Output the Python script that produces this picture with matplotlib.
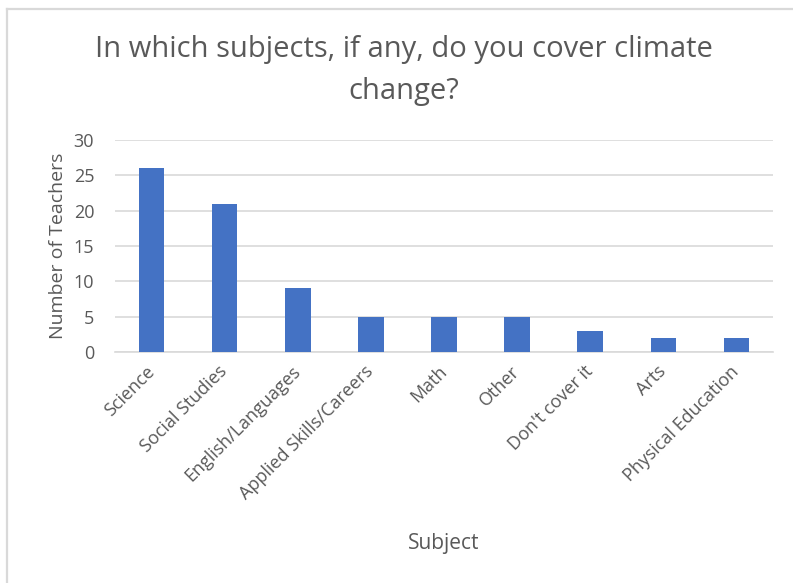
import matplotlib
matplotlib.use("Agg")
import matplotlib.pyplot as plt
from matplotlib.lines import Line2D

subjects = ["Science", "Social Studies", "English/Languages", "Applied Skills/Careers",
            "Math", "Other", "Don't cover it", "Arts", "Physical Education"]
teachers = [26, 21, 9, 5, 5, 5, 3, 2, 2]
yticks = [0, 5, 10, 15, 20, 25, 30]

bar_color = "#4472C4"
text_color = "#595959"
grid_color = "#D9D9D9"

plt.rcParams['font.family'] = ['Open Sans', 'DejaVu Sans']

W, H = 793, 583
fig = plt.figure(figsize=(W / 100, H / 100), dpi=100)
fig.patch.set_facecolor("white")

# thin gray frame along top and left edges
fig.add_artist(Line2D([6.5 / W, 6.5 / W], [0, 1 - 8.5 / H], transform=fig.transFigure,
                      color="#D9D9D9", lw=1.6))
fig.add_artist(Line2D([6.5 / W, 1], [1 - 8.5 / H, 1 - 8.5 / H], transform=fig.transFigure,
                      color="#D9D9D9", lw=1.6))

ax = fig.add_axes([115 / W, 1 - 352 / H, (773 - 115) / W, (352 - 140) / H])
x = range(len(subjects))
ax.bar(x, teachers, width=0.35, color=bar_color, zorder=3)

ax.set_xlim(-0.5, len(subjects) - 0.5)
ax.set_ylim(0, 30)
ax.set_yticks(yticks)
ax.yaxis.grid(True, color=grid_color, lw=1.2, zorder=0)
ax.set_axisbelow(True)
for s in ["top", "right", "left"]:
    ax.spines[s].set_visible(False)
ax.spines["bottom"].set_color(grid_color)
ax.spines["bottom"].set_linewidth(1.2)
ax.tick_params(axis="both", length=0, colors=text_color)
ax.tick_params(axis="y", pad=15, labelsize=13)
ax.tick_params(axis="x", pad=12)

ax.set_xticks(list(x))
ax.set_xticklabels(subjects, rotation=45, ha="right", va="center", rotation_mode="anchor",
                   color=text_color, fontsize=13)

ax.set_ylabel("Number of Teachers", color=text_color, fontsize=14, labelpad=5)
fig.text(444 / W, 1 - 543 / H, "Subject", ha="center", va="center",
         color=text_color, fontsize=15)

fig.text(404 / W, 1 - 50 / H, "In which subjects, if any, do you cover climate",
         ha="center", va="center", color=text_color, fontsize=21)
fig.text(404 / W, 1 - 92 / H, "change?", ha="center", va="center",
         color=text_color, fontsize=21)

fig.savefig("out.png", dpi=100)
